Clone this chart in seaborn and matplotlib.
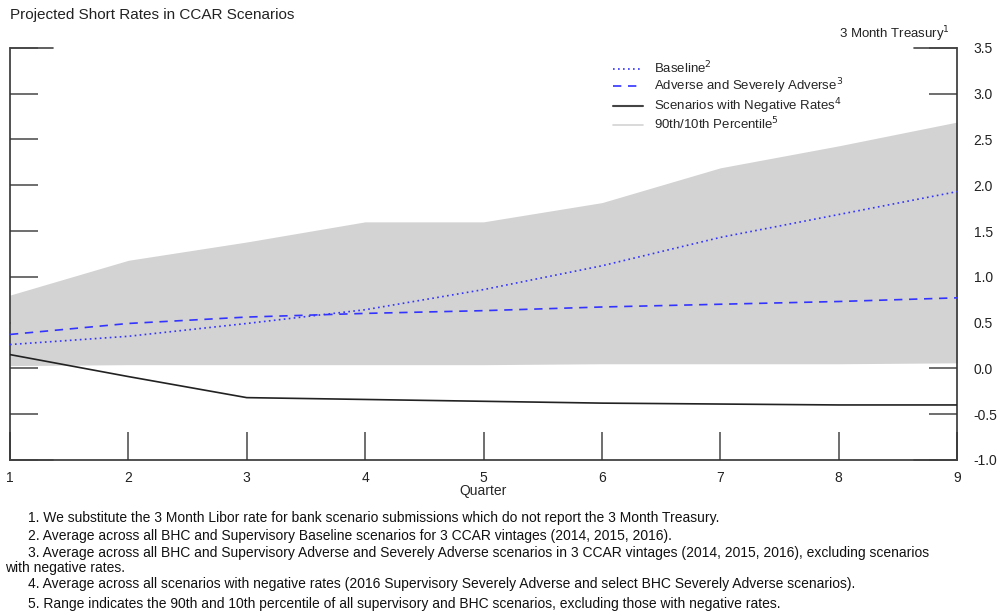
import numpy as np
import pandas as pd
import matplotlib
matplotlib.use("Agg")
import matplotlib.pyplot as plt
from matplotlib.lines import Line2D
import seaborn as sns

# Datos
trimestres = [1, 2, 3, 4, 5, 6, 7, 8, 9]
baseline = [0.26, 0.35, 0.49, 0.64, 0.86, 1.12, 1.43, 1.68, 1.93]
adverso = [0.37, 0.49, 0.56, 0.60, 0.63, 0.67, 0.70, 0.73, 0.77]
negativos = [0.15, -0.09, -0.32, -0.34, -0.36, -0.38, -0.39, -0.40, -0.40]
pct_90 = [0.80, 1.18, 1.38, 1.60, 1.60, 1.81, 2.19, 2.43, 2.69]
pct_10 = [0.03, 0.04, 0.04, 0.04, 0.04, 0.05, 0.05, 0.05, 0.06]
y_ticks = [-1.0, -0.5, 0.0, 0.5, 1.0, 1.5, 2.0, 2.5, 3.0, 3.5]

notas = [
    "1. We substitute the 3 Month Libor rate for bank scenario submissions which do not report the 3 Month Treasury.",
    "2. Average across all BHC and Supervisory Baseline scenarios for 3 CCAR vintages (2014, 2015, 2016).",
    "3. Average across all BHC and Supervisory Adverse and Severely Adverse scenarios in 3 CCAR vintages (2014, 2015, 2016), excluding scenarios",
    "with negative rates.",
    "4. Average across all scenarios with negative rates (2016 Supervisory Severely Adverse and select BHC Severely Adverse scenarios).",
    "5. Range indicates the 90th and 10th percentile of all supervisory and BHC scenarios, excluding those with negative rates.",
]

df = pd.DataFrame({"quarter": trimestres, "baseline": baseline, "adverse": adverso,
                   "negative": negativos, "p90": pct_90, "p10": pct_10})

sns.set_style("ticks")
plt.rcParams["font.family"] = ["Liberation Sans", "DejaVu Sans"]

fig = plt.figure(figsize=(9.98, 6.14), dpi=100)
ax = fig.add_axes([0.010, 0.251, 0.949, 0.671])

gris = "#d3d3d3"
azul = "#3333ff"
ax.fill_between(df["quarter"], df["p10"], df["p90"], color=gris, linewidth=0, zorder=1)
sns.lineplot(data=df, x="quarter", y="baseline", ax=ax, color=azul, linestyle=(0, (1, 2)), linewidth=1.2, zorder=3)
sns.lineplot(data=df, x="quarter", y="adverse", ax=ax, color=azul, linestyle=(0, (5, 4)), linewidth=1.2, zorder=3)
sns.lineplot(data=df, x="quarter", y="negative", ax=ax, color="#222222", linewidth=1.2, zorder=3)

ax.set_xlim(1, 9)
ax.set_ylim(-1.0, 3.5)
ax.set_yticks(y_ticks)
ax.set_yticklabels([f"{v:.1f}" for v in y_ticks], fontsize=10, color="#222222")
ax.set_xticks(trimestres)
ax.set_xticklabels([str(t) for t in trimestres], fontsize=10, color="#222222")
ax.tick_params(axis="y", direction="in", length=20, width=1.2, color="#555555",
               left=True, right=True, labelleft=False, labelright=True, pad=12)
ax.tick_params(axis="x", direction="in", length=20, width=1.2, color="#555555", pad=8)
ax.set_xlabel("Quarter", fontsize=10, labelpad=-1)
ax.set_ylabel("")
for lado in ["left", "right", "bottom"]:
    ax.spines[lado].set_color("#333333")
    ax.spines[lado].set_linewidth(1.2)
ax.spines["top"].set_visible(False)

# marcas más largas en los extremos
for yv in [-1.0, 3.5]:
    ax.plot([1, 1.36], [yv, yv], color="#444444", lw=1.2, clip_on=False, zorder=4)
    ax.plot([8.64, 9], [yv, yv], color="#444444", lw=1.2, clip_on=False, zorder=4)

handles = [
    Line2D([], [], color=azul, linestyle=(0, (1, 2)), lw=1.2),
    Line2D([], [], color=azul, linestyle=(0, (5, 4)), lw=1.2),
    Line2D([], [], color="#444444", lw=1.5),
    Line2D([], [], color=gris, lw=1.2),
]
etiquetas = ["Baseline$^2$", "Adverse and Severely Adverse$^3$",
             "Scenarios with Negative Rates$^4$", "90th/10th Percentile$^5$"]
ax.legend(handles, etiquetas, loc="upper left", bbox_to_anchor=(0.631, 0.983), frameon=False,
          fontsize=9.5, handlelength=2.3, labelspacing=0.0, handletextpad=0.8, borderaxespad=0)

fig.text(0.010, 0.975, "Projected Short Rates in CCAR Scenarios", fontsize=11, color="#222222", va="center")
fig.text(0.952, 0.945, "3 Month Treasury$^1$", fontsize=9.5, color="#222222", ha="right", va="center")

y_notas = [518, 536, 553, 568, 584, 604]
x_notas = [28, 28, 28, 5, 28, 28]
for texto, xp, yp in zip(notas, x_notas, y_notas):
    fig.text(xp / 998, 1 - yp / 614, texto, fontsize=10, va="center", color="#111111")

fig.savefig("out.png", dpi=100)
